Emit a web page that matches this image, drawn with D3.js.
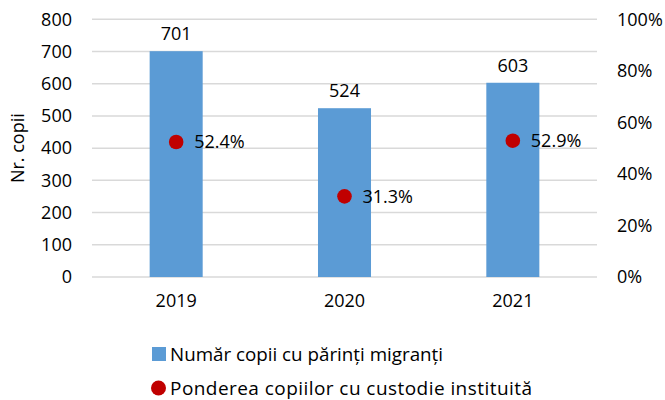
<!DOCTYPE html>
<html><head><meta charset="utf-8">
<script src="https://cdn.jsdelivr.net/npm/d3@7"></script>
<style>body{margin:0;background:#fff}svg{display:block}text{font-family:"Open Sans",sans-serif;fill:#000}</style>
</head><body><svg id="c" width="665" height="400"></svg>
<script>
const years = ["2019","2020","2021"];
const counts = [701, 524, 603];
const shares = [0.524, 0.313, 0.529];
const leftTicks = [0,100,200,300,400,500,600,700,800];
const rightTicks = [0,0.2,0.4,0.6,0.8,1.0];
const seriesNames = ["Număr copii cu părinți migranți","Ponderea copiilor cu custodie instituită"];
const yTitle = "Nr. copii";

const svg = d3.select("#c");
const L = 92, R = 597, T = 19.3, B = 277;
const FF = "Open Sans";
const x = d3.scaleBand().domain(years).range([L,R]).paddingInner(0.685).paddingOuter(0.3425);
const y = d3.scaleLinear().domain([0,800]).range([B,T]);
const y2 = d3.scaleLinear().domain([0,1]).range([B,T]);
const fs = 18;

// gridlines
svg.append("g").selectAll("line").data(leftTicks).join("line")
  .attr("x1",L).attr("x2",R).attr("y1",d=>y(d)).attr("y2",d=>y(d))
  .attr("stroke","#D9D9D9").attr("stroke-width",1.5);

function styleAxis(g){
  g.select(".domain").remove();
  g.selectAll("text").style("font-size",fs+"px").attr("fill","#000").style("font-family",FF);
}
svg.append("g").attr("transform",`translate(${L},0)`)
  .call(d3.axisLeft(y).tickValues(leftTicks).tickSize(0).tickPadding(20)).call(styleAxis);
svg.append("g").attr("transform",`translate(${R},0)`)
  .call(d3.axisRight(y2).tickValues(rightTicks).tickSize(0).tickPadding(20).tickFormat(d3.format(".0%"))).call(styleAxis);
svg.append("g").attr("transform",`translate(0,${B})`)
  .call(d3.axisBottom(x).tickSize(0).tickPadding(17)).call(styleAxis);

svg.append("g").selectAll("rect").data(years).join("rect")
  .attr("x",d=>x(d)).attr("width",x.bandwidth())
  .attr("y",(d,i)=>y(counts[i])).attr("height",(d,i)=>B-y(counts[i]))
  .attr("fill","#5B9BD5");

svg.append("g").selectAll("text").data(years).join("text")
  .attr("x",d=>x(d)+x.bandwidth()/2).attr("y",(d,i)=>y(counts[i])-11)
  .attr("text-anchor","middle").style("font-size",fs+"px").text((d,i)=>counts[i]);

svg.append("g").selectAll("circle").data(years).join("circle")
  .attr("cx",d=>x(d)+x.bandwidth()/2).attr("cy",(d,i)=>y2(shares[i]))
  .attr("r",7.3).attr("fill","#C00000");
svg.append("g").selectAll("text").data(years).join("text")
  .attr("x",d=>x(d)+x.bandwidth()/2+18).attr("y",(d,i)=>y2(shares[i]))
  .attr("dy","0.35em").style("font-size",fs+"px").text((d,i)=>d3.format(".1%")(shares[i]));

svg.append("text").attr("transform",`translate(24,${(T+B)/2}) rotate(-90)`)
  .attr("text-anchor","middle").style("font-size",fs+"px").text(yTitle);

const lg = svg.append("g");
lg.append("rect").attr("x",152).attr("y",347).attr("width",14).attr("height",14).attr("fill","#5B9BD5");
lg.append("text").attr("x",170).attr("y",354).attr("dy","0.35em").style("font-size","19px")
  .attr("textLength",273).attr("lengthAdjust","spacingAndGlyphs").text(seriesNames[0]);
lg.append("circle").attr("cx",158.5).attr("cy",388).attr("r",7.5).attr("fill","#C00000");
lg.append("text").attr("x",170).attr("y",388).attr("dy","0.35em").style("font-size","19px")
  .attr("textLength",362).attr("lengthAdjust","spacing").text(seriesNames[1]);
</script></body></html>
